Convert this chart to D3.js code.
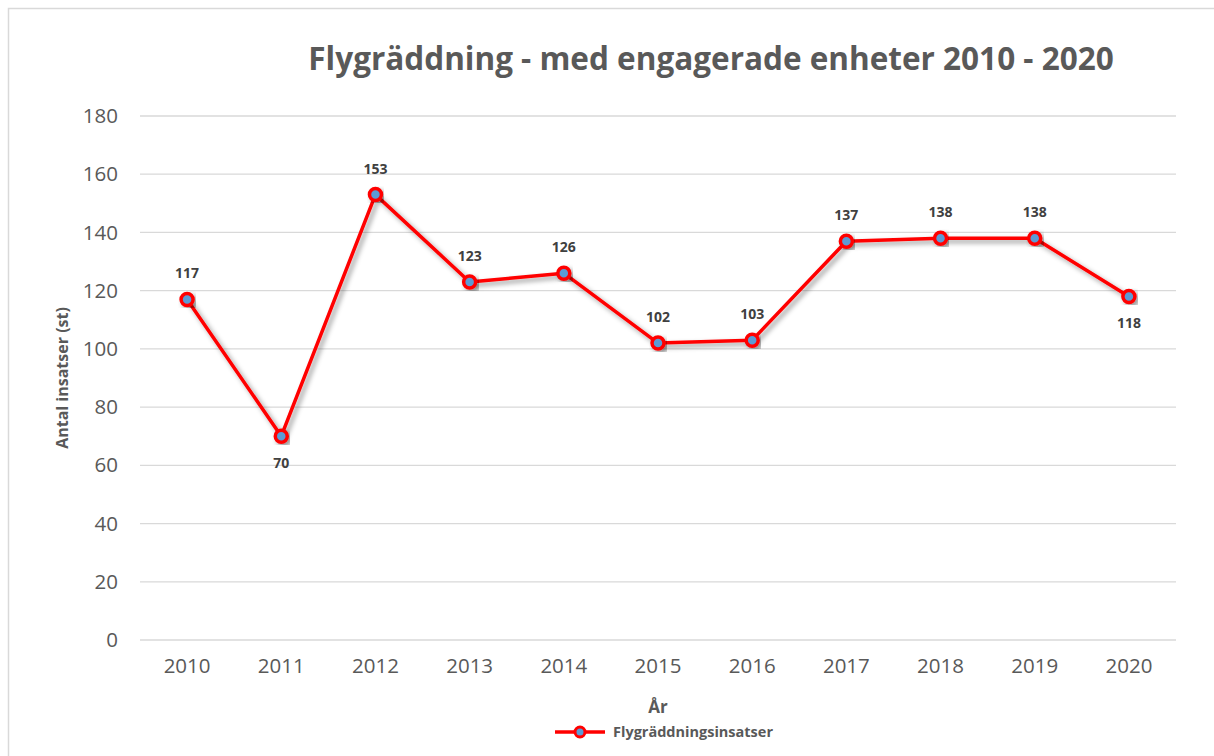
<!DOCTYPE html>
<html>
<head>
<meta charset="utf-8">
<script src="https://cdn.jsdelivr.net/npm/d3@7"></script>
<style>
  html, body { margin: 0; padding: 0; background: #fff; }
  svg { display: block; font-family: "Open Sans", "Liberation Sans", sans-serif; }
</style>
</head>
<body>
<svg id="chart" width="1214" height="756"></svg>
<script>
// data
const years = ["2010", "2011", "2012", "2013", "2014", "2015", "2016", "2017", "2018", "2019", "2020"];
const insatser = [117, 70, 153, 123, 126, 102, 103, 137, 138, 138, 118];
const yTicks = [0, 20, 40, 60, 80, 100, 120, 140, 160, 180];
const labelBelow = ["2011", "2020"];

const svg = d3.select("#chart");

// chart frame
svg.append("rect")
  .attr("x", 8.5).attr("y", 8.5)
  .attr("width", 1230).attr("height", 780)
  .attr("fill", "#fff")
  .attr("stroke", "#d9d9d9")
  .attr("stroke-width", 1.5);

// drop shadow like Excel
const defs = svg.append("defs");
const f = defs.append("filter").attr("id", "shadow")
  .attr("x", "-20%").attr("y", "-20%").attr("width", "140%").attr("height", "140%");
f.append("feDropShadow")
  .attr("dx", 3).attr("dy", 3).attr("stdDeviation", 2.5)
  .attr("flood-color", "#000").attr("flood-opacity", 0.4);

const plotLeft = 140, plotRight = 1176, plotTop = 116, plotBottom = 640;

const x = d3.scaleBand().domain(years).range([plotLeft, plotRight]);
const y = d3.scaleLinear().domain([0, 180]).range([plotBottom, plotTop]);

// gridlines
svg.append("g")
  .selectAll("line")
  .data(yTicks)
  .enter()
  .append("line")
  .attr("x1", plotLeft).attr("x2", plotRight)
  .attr("y1", d => y(d)).attr("y2", d => y(d))
  .attr("stroke", "#d9d9d9")
  .attr("stroke-width", 1.3);

// y axis labels
const yAxis = svg.append("g")
  .attr("transform", "translate(" + (plotLeft - 2) + ",0)")
  .call(d3.axisLeft(y).tickValues(yTicks).tickSize(0).tickPadding(20));
yAxis.select(".domain").remove();
yAxis.selectAll("text")
  .attr("fill", "#595959")
  .style("font-size", "20.5px")
  .style("font-family", "Open Sans, Liberation Sans, sans-serif");

// x axis labels
const xAxis = svg.append("g")
  .attr("transform", "translate(0," + plotBottom + ")")
  .call(d3.axisBottom(x).tickSize(0).tickPadding(18));
xAxis.select(".domain").remove();
xAxis.selectAll("text")
  .attr("fill", "#595959")
  .style("font-size", "20.5px")
  .style("font-family", "Open Sans, Liberation Sans, sans-serif");

const cx = d => x(d) + x.bandwidth() / 2;
const series = years.map((yr, i) => ({ year: yr, value: insatser[i] }));

// line
const line = d3.line()
  .x(d => cx(d.year))
  .y(d => y(d.value));

svg.append("path")
  .datum(series)
  .attr("d", line)
  .attr("fill", "none")
  .attr("stroke", "#ff0000")
  .attr("stroke-width", 3.5)
  .attr("stroke-linejoin", "round")
  .attr("filter", "url(#shadow)");

// markers
svg.append("g")
  .selectAll("circle")
  .data(series)
  .enter()
  .append("circle")
  .attr("cx", d => cx(d.year))
  .attr("cy", d => y(d.value))
  .attr("r", 6)
  .attr("fill", "#5b9bd5")
  .attr("stroke", "#ff0000")
  .attr("stroke-width", 3.5)
  .attr("filter", "url(#shadow)");

// data labels
svg.append("g")
  .selectAll("text")
  .data(series)
  .enter()
  .append("text")
  .attr("x", d => cx(d.year))
  .attr("y", d => labelBelow.includes(d.year) ? y(d.value) + 32 : y(d.value) - 21)
  .attr("text-anchor", "middle")
  .attr("fill", "#404040")
  .style("font-size", "14px")
  .style("font-weight", "bold")
  .text(d => d.value);

// title
svg.append("text")
  .attr("x", 711).attr("y", 70)
  .attr("text-anchor", "middle")
  .attr("fill", "#595959")
  .style("font-size", "31.5px")
  .style("font-weight", "bold")
  .text("Flygräddning - med engagerade enheter 2010 - 2020");

// axis titles
svg.append("text")
  .attr("transform", "translate(68," + ((plotTop + plotBottom) / 2) + ") rotate(-90)")
  .attr("text-anchor", "middle")
  .attr("fill", "#595959")
  .style("font-size", "16px")
  .style("font-weight", "bold")
  .text("Antal insatser (st)");

svg.append("text")
  .attr("x", (plotLeft + plotRight) / 2).attr("y", 713)
  .attr("text-anchor", "middle")
  .attr("fill", "#595959")
  .style("font-size", "17px")
  .style("font-weight", "bold")
  .text("År");

// legend
const lg = svg.append("g").attr("transform", "translate(555,732)");
lg.append("line")
  .attr("x1", 0).attr("x2", 50).attr("y1", 0).attr("y2", 0)
  .attr("stroke", "#ff0000").attr("stroke-width", 3.5);
lg.append("circle")
  .attr("cx", 25).attr("cy", 0).attr("r", 5)
  .attr("fill", "#5b9bd5").attr("stroke", "#ff0000").attr("stroke-width", 3);
lg.append("text")
  .attr("x", 58).attr("y", 5)
  .attr("fill", "#595959")
  .style("font-size", "14.5px")
  .style("font-weight", "bold")
  .text("Flygräddningsinsatser");
</script>
</body>
</html>
